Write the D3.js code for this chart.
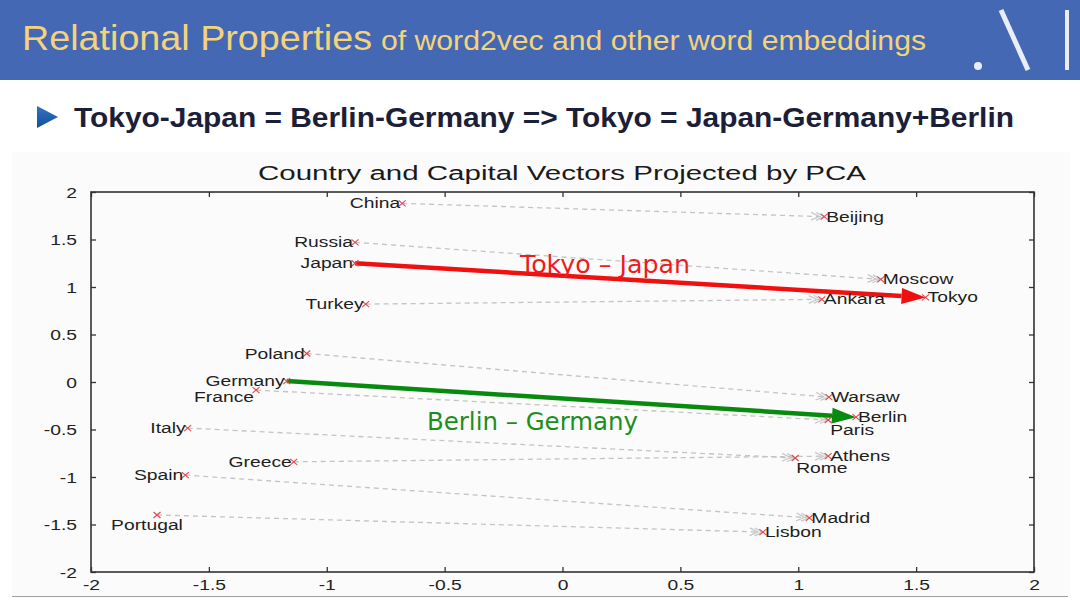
<!DOCTYPE html>
<html>
<head>
<meta charset="utf-8">
<script src="https://cdn.jsdelivr.net/npm/d3@7"></script>
<style>
  body { margin: 0; background: #ffffff; }
  svg { display: block; }
</style>
</head>
<body>
<div id="chart-area"></div>
<script>
// word pairs
const countries = ["China", "Russia", "Japan", "Turkey", "Poland", "Germany", "France", "Italy", "Greece", "Spain", "Portugal"];
const capitals  = ["Beijing", "Moscow", "Tokyo", "Ankara", "Warsaw", "Berlin", "Paris", "Rome", "Athens", "Madrid", "Lisbon"];
const countryX  = [-0.68, -0.88, -0.88, -0.835, -1.085, -1.17, -1.30, -1.59, -1.14, -1.60, -1.72];
const countryY  = [1.88, 1.47, 1.25, 0.82, 0.30, 0.01, -0.085, -0.485, -0.84, -0.98, -1.40];
const capitalX  = [1.11, 1.35, 1.54, 1.10, 1.13, 1.245, 1.127, 0.987, 1.127, 1.047, 0.85];
const capitalY  = [1.74, 1.08, 0.89, 0.87, -0.16, -0.37, -0.40, -0.80, -0.78, -1.43, -1.58];

const xTicks = [-2, -1.5, -1, -0.5, 0, 0.5, 1, 1.5, 2];
const yTicks = [2, 1.5, 1, 0.5, 0, -0.5, -1, -1.5, -2];

// highlighted difference vectors
const highlights = [
  {from: "Japan", to: "Tokyo", label: "Tokyo \u2013 Japan", color: "#f01010", textColor: "#ee1c1c"},
  {from: "Germany", to: "Berlin", label: "Berlin \u2013 Germany", color: "#078a0e", textColor: "#1b8f1b"}
];

// label nudges (px) for words that sit below their marker
const labelNudge = {
  France: {dx: -2, dy: 7, anchor: "end"},
  Portugal: {dx: -10, dy: 10, anchor: "middle"},
  Paris: {dx: 2, dy: 10, anchor: "start"},
  Rome: {dx: 1, dy: 10, anchor: "start"}
};

const width = 1080, height = 605;
const plotFont = "Liberation Sans, Arial, sans-serif";
const stretch = 1.33;   // the figure's font is rendered wide

const svg = d3.select("#chart-area").append("svg")
  .attr("width", width).attr("height", height);

// ---- slide header ----
svg.append("rect").attr("x", 0).attr("y", 0).attr("width", width).attr("height", 80)
  .attr("fill", "#4468b3");
svg.append("text").attr("x", 22).attr("y", 50)
  .attr("font-family", plotFont).attr("font-size", 35)
  .attr("fill", "#f3d37c").attr("textLength", 350).attr("lengthAdjust", "spacingAndGlyphs")
  .text("Relational Properties");
svg.append("text").attr("x", 381).attr("y", 50)
  .attr("font-family", plotFont).attr("font-size", 27)
  .attr("fill", "#f3d37c").attr("textLength", 545).attr("lengthAdjust", "spacingAndGlyphs")
  .text("of word2vec and other word embeddings");

// logo .\|
const logo = svg.append("g").attr("fill", "#e9edf5").attr("stroke", "#e9edf5");
logo.append("circle").attr("cx", 978).attr("cy", 66).attr("r", 4).attr("stroke", "none");
logo.append("line").attr("x1", 1001).attr("y1", 10).attr("x2", 1028).attr("y2", 70).attr("stroke-width", 5);
logo.append("line").attr("x1", 1067).attr("y1", 10).attr("x2", 1067).attr("y2", 70).attr("stroke-width", 4);

// bullet line
const grad = svg.append("defs").append("linearGradient").attr("id", "tri").attr("x1", 0).attr("x2", 0).attr("y1", 0).attr("y2", 1);
grad.append("stop").attr("offset", 0).attr("stop-color", "#2d74c4");
grad.append("stop").attr("offset", 1).attr("stop-color", "#164f9c");
svg.append("path").attr("d", "M37,106 L58,117 L37,128 Z").attr("fill", "url(#tri)");
svg.append("text").attr("x", 74).attr("y", 127)
  .attr("font-family", plotFont).attr("font-size", 27).attr("font-weight", "bold")
  .attr("fill", "#1b2038").attr("textLength", 940).attr("lengthAdjust", "spacingAndGlyphs")
  .text("Tokyo-Japan = Berlin-Germany => Tokyo = Japan-Germany+Berlin");

// ---- figure panel ----
svg.append("rect").attr("x", 12).attr("y", 152).attr("width", 1058).attr("height", 444).attr("fill", "#fbfbfb");
svg.append("line").attr("x1", 12).attr("x2", 1068).attr("y1", 596.5).attr("y2", 596.5)
  .attr("stroke", "#a0a0a0").attr("stroke-width", 1);

const plot = {left: 91, right: 1034, top: 192, bottom: 572};
const x = d3.scaleLinear().domain([-2, 2]).range([plot.left, plot.right]);
const y = d3.scaleLinear().domain([-2, 2]).range([plot.bottom, plot.top]);

svg.append("text")
  .attr("x", 258).attr("y", 180)
  .attr("font-family", plotFont).attr("font-size", 19.5).attr("fill", "#1a1a1a")
  .attr("textLength", 608).attr("lengthAdjust", "spacingAndGlyphs")
  .text("Country and Capital Vectors Projected by PCA");

const axisStyle = g => { g.select(".domain").remove(); g.selectAll("line").attr("stroke", "#333").attr("stroke-width", 1.3); };

const xAxis = svg.append("g").attr("transform", `translate(0,${plot.bottom})`)
  .call(d3.axisBottom(x).tickValues(xTicks).tickSize(-5).tickFormat(d => String(d)))
  .call(axisStyle);
xAxis.selectAll("text").attr("y", null).attr("dy", null)
  .attr("transform", `translate(0,18) scale(${stretch},1)`);
svg.append("g").attr("transform", `translate(0,${plot.top})`)
  .call(d3.axisTop(x).tickValues(xTicks).tickSize(-5).tickFormat(""))
  .call(axisStyle);
const yAxis = svg.append("g").attr("transform", `translate(${plot.left},0)`)
  .call(d3.axisLeft(y).tickValues(yTicks).tickSize(-5).tickFormat(d => String(d)))
  .call(axisStyle);
yAxis.selectAll("text").attr("x", null).attr("dy", null)
  .attr("transform", `translate(-14,5) scale(${stretch},1)`);
svg.append("g").attr("transform", `translate(${plot.right},0)`)
  .call(d3.axisRight(y).tickValues(yTicks).tickSize(-5).tickFormat(""))
  .call(axisStyle);
svg.selectAll("g.tick text").attr("font-family", plotFont).attr("font-size", 14.5).attr("fill", "#222");
svg.append("rect").attr("x", plot.left).attr("y", plot.top)
  .attr("width", plot.right - plot.left).attr("height", plot.bottom - plot.top)
  .attr("fill", "none").attr("stroke", "#333").attr("stroke-width", 1.6);

// pair records
const pairs = countries.map((c, i) => ({
  country: c, capital: capitals[i],
  x0: x(countryX[i]), y0: y(countryY[i]),
  x1: x(capitalX[i]), y1: y(capitalY[i])
}));
const highlighted = new Set(highlights.map(h => h.from));

// dashed quiver lines with open grey heads at the capital end
const quiver = svg.append("g");
pairs.filter(p => !highlighted.has(p.country)).forEach(p => {
  quiver.append("line").attr("x1", p.x0).attr("y1", p.y0).attr("x2", p.x1).attr("y2", p.y1)
    .attr("stroke", "#c4c4c4").attr("stroke-width", 1.3).attr("stroke-dasharray", "5,4");
  const a = Math.atan2(p.y1 - p.y0, p.x1 - p.x0);
  [0, 5].forEach(back => {
    const tx = p.x1 - back * Math.cos(a), ty = p.y1 - back * Math.sin(a);
    const pt = s => [tx - 9 * Math.cos(a + s * 0.45), ty - 9 * Math.sin(a + s * 0.45)];
    quiver.append("path")
      .attr("d", d3.line()([pt(1), [tx, ty], pt(-1)]))
      .attr("fill", "none").attr("stroke", "#c8c8c8").attr("stroke-width", 1.3);
  });
});

// thick coloured difference arrows
highlights.forEach(h => {
  const p = pairs.find(d => d.country === h.from);
  const a = Math.atan2(p.y1 - p.y0, p.x1 - p.x0);
  const len = 24, half = 8;
  const bx = p.x1 - len * Math.cos(a), by = p.y1 - len * Math.sin(a);
  svg.append("line").attr("x1", p.x0).attr("y1", p.y0).attr("x2", bx).attr("y2", by)
    .attr("stroke", h.color).attr("stroke-width", 4.5);
  svg.append("path").attr("d", d3.line()([
    [p.x1, p.y1],
    [bx + half * Math.sin(a), by - half * Math.cos(a)],
    [bx - half * Math.sin(a), by + half * Math.cos(a)]
  ]) + "Z").attr("fill", h.color);
});

// red x markers
const markers = pairs.flatMap(p => [[p.x0, p.y0], [p.x1, p.y1]]);
svg.append("g").selectAll("path").data(markers).join("path")
  .attr("d", d => `M${d[0] - 3.5},${d[1] - 3}L${d[0] + 3.5},${d[1] + 3}M${d[0] - 3.5},${d[1] + 3}L${d[0] + 3.5},${d[1] - 3}`)
  .attr("stroke", "#e0474c").attr("stroke-width", 1.1);

// word labels
const words = pairs.flatMap(p => [
  {text: p.country, px: p.x0, py: p.y0, side: "end"},
  {text: p.capital, px: p.x1, py: p.y1, side: "start"}
]);
svg.append("g").selectAll("text").data(words).join("text")
  .attr("transform", d => {
    const n = labelNudge[d.text];
    const tx = d.px + (n ? n.dx : (d.side === "end" ? -2 : 2));
    const ty = d.py + 5 + (n ? n.dy : 0);
    return `translate(${tx},${ty}) scale(${stretch},1)`;
  })
  .attr("text-anchor", d => labelNudge[d.text] ? labelNudge[d.text].anchor : d.side)
  .attr("font-family", plotFont).attr("font-size", 14.5)
  .attr("fill", "#1e1e1e")
  .text(d => d.text);

// annotation texts
svg.append("text").attr("x", 520).attr("y", 273)
  .attr("font-family", "DejaVu Sans, sans-serif").attr("font-size", 24)
  .attr("textLength", 170).attr("lengthAdjust", "spacingAndGlyphs")
  .attr("fill", highlights[0].textColor).text(highlights[0].label);
svg.append("text").attr("x", 427).attr("y", 430)
  .attr("font-family", "DejaVu Sans, sans-serif").attr("font-size", 24)
  .attr("textLength", 211).attr("lengthAdjust", "spacingAndGlyphs")
  .attr("fill", highlights[1].textColor).text(highlights[1].label);
</script>
</body>
</html>
